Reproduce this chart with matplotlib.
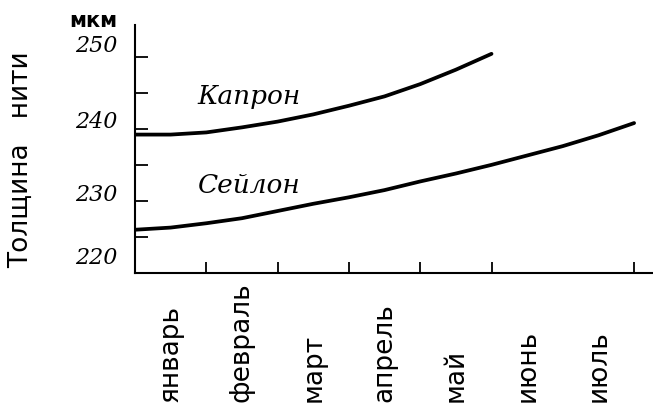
import matplotlib
matplotlib.use("Agg")
import matplotlib.pyplot as plt
from matplotlib.transforms import ScaledTranslation, blended_transform_factory

# months measured from the start of January
months = ["январь", "февраль", "март", "апрель", "май", "июнь", "июль"]
month_centers = [0.5, 1.5, 2.5, 3.5, 4.5, 5.5, 6.5]
month_ticks = [1, 2, 3, 4, 5, 7]

kapron_x = [0, 0.5, 1.0, 1.5, 2.0, 2.5, 3.0, 3.5, 4.0, 4.5, 5.0]
kapron_y = [239.2, 239.2, 239.5, 240.2, 241.0, 242.0, 243.2, 244.5, 246.2, 248.2, 250.4]

seilon_x = [0, 0.5, 1.0, 1.5, 2.0, 2.5, 3.0, 3.5, 4.0, 4.5, 5.0, 5.5, 6.0, 6.5, 7.0]
seilon_y = [226.0, 226.3, 226.9, 227.6, 228.6, 229.6, 230.5, 231.5, 232.7, 233.8,
            235.0, 236.3, 237.6, 239.1, 240.8]

y_major = [220, 230, 240, 250]
y_minor = [225, 235, 245]
y_label_shift = {220: 15, 230: 6, 240: 7, 250: 11}  # px, labels sit above ticks

fig = plt.figure(figsize=(6.53, 4.07), dpi=100)
ax = fig.add_axes([135 / 653, 1 - 273 / 407, 518 / 653, 248 / 407])

ax.plot(kapron_x, kapron_y, color="black", lw=2.7, solid_capstyle="round",
        solid_joinstyle="round")
ax.plot(seilon_x, seilon_y, color="black", lw=2.7, solid_capstyle="round",
        solid_joinstyle="round")

ax.set_xlim(0, 518 / 71.3)
ax.set_ylim(220, 254.4)

for side in ["top", "right"]:
    ax.spines[side].set_visible(False)
for side in ["left", "bottom"]:
    ax.spines[side].set_linewidth(1.5)

ax.set_xticks(month_ticks)
ax.set_xticklabels([])
ax.tick_params(axis="x", direction="in", length=8, width=1.3)

ax.set_yticks(y_major)
ax.set_yticks(y_minor, minor=True)
ax.set_yticklabels([])
ax.tick_params(axis="y", which="both", direction="in", length=9, width=1.3)

for v in y_major:
    tr = ax.get_yaxis_transform() + ScaledTranslation(-18 / 100, y_label_shift[v] / 100,
                                                      fig.dpi_scale_trans)
    ax.text(0, v, str(v), transform=tr, ha="right", va="center",
            fontsize=16, family="DejaVu Serif", style="italic")

# month names, rotated, all starting just above the bottom edge
month_tr = blended_transform_factory(ax.transData, fig.transFigure)
for name, xc in zip(months, month_centers):
    ax.text(xc, 0.012, name, rotation=90, ha="center", va="bottom", fontsize=19,
            family="DejaVu Sans", clip_on=False, transform=month_tr)

ax.text(0.87, 243.5, "Капрон", fontsize=19, family="DejaVu Serif", style="italic",
        ha="left", va="baseline")
ax.text(0.88, 231.1, "Сейлон", fontsize=19, family="DejaVu Serif", style="italic",
        ha="left", va="baseline")

fig.text(93 / 653, 1 - 21 / 407, "мкм", fontsize=15, fontweight="bold",
         ha="center", va="center")
fig.text(21 / 653, 1 - 160 / 407, "Толщина   нити", rotation=90, fontsize=19,
         ha="center", va="center")

fig.savefig("out.png", dpi=100)
